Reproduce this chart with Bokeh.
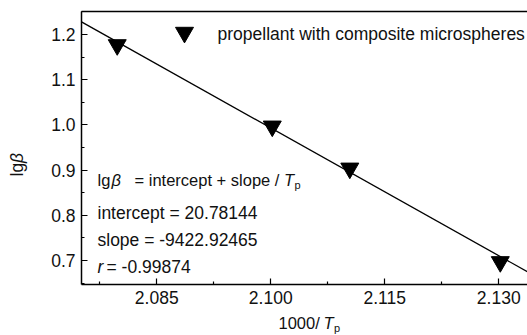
from bokeh.plotting import figure
from bokeh.models import Range1d, FixedTicker, LinearAxis, Label, NumeralTickFormatter
from bokeh.embed import file_html
from bokeh.resources import INLINE
import math

# ---- data ----
x_inv_tp = [2.0798, 2.1002, 2.1104, 2.1302]      # 1000/Tp
lg_beta = [1.177, 0.997, 0.904, 0.697]           # lg(beta)
fit_intercept = 20.78144
fit_slope = -9422.92465
fit_r = -0.99874
x_ticks = [2.085, 2.100, 2.115, 2.130]
y_ticks = [0.7, 0.8, 0.9, 1.0, 1.1, 1.2]
legend_label = "propellant with composite microspheres"

# ---- layout ----
W, H = 527, 335
BL, BT, BB = 81, 11, 284          # plot box left / top / bottom (pixels)
X0, X1 = 2.0751, 2.13378          # data at box left / page right
Y0, Y1 = 0.6469, 1.2509           # data at box bottom / top
DX = (X1 - X0) / (W - BL)
DY = (Y1 - Y0) / (BB - BT)
XS, XE = X0 - BL * DX, X1
YS, YE = Y0 - (H - BB) * DY, Y1 + BT * DY
FONT = "Liberation Sans"
FSPX = 17.5
FS = "%gpx" % FSPX
INK = "#111111"


def px_x(px):
    return XS + px * DX


def px_y(py):
    return YE - py * DY


p = figure(width=W, height=H, output_backend="svg", toolbar_location=None,
           x_range=Range1d(XS, XE), y_range=Range1d(YS, YE),
           min_border=0, min_border_left=0, min_border_right=0,
           min_border_top=0, min_border_bottom=0)
p.title.visible = False
p.grid.visible = False
p.outline_line_color = None
p.background_fill_color = "white"
p.border_fill_color = "white"

x_minor = [t - 0.0075 for t in x_ticks] + [x_ticks[-1] + 0.0075]
y_minor = [round(t - 0.05, 3) for t in y_ticks] + [1.25]
xa, ya = p.xaxis[0], p.yaxis[0]
xa.ticker = FixedTicker(ticks=x_ticks, minor_ticks=x_minor)
ya.ticker = FixedTicker(ticks=y_ticks, minor_ticks=y_minor)
xa.formatter = NumeralTickFormatter(format="0.000")
ya.formatter = NumeralTickFormatter(format="0.0")
xa.fixed_location = Y0
ya.fixed_location = X0
xa.bounds = (X0, X1)
ya.bounds = (Y0, Y1)

for ax in (xa, ya):
    ax.axis_line_width = 1.5
    ax.axis_line_color = "black"
    ax.major_tick_in = 6
    ax.major_tick_out = 0
    ax.minor_tick_in = 3
    ax.minor_tick_out = 0
    ax.major_tick_line_width = 1.2
    ax.minor_tick_line_width = 1.2
    ax.major_tick_line_color = "black"
    ax.minor_tick_line_color = "black"
    ax.major_label_text_font = FONT
    ax.major_label_text_font_size = FS
    ax.major_label_text_color = INK
    ax.major_label_standoff = 6

top = LinearAxis(ticker=FixedTicker(ticks=[]), major_label_text_font_size="0px",
                 axis_line_width=1.5, axis_line_color="black",
                 major_tick_in=0, major_tick_out=0, minor_tick_in=0, minor_tick_out=0,
                 major_label_standoff=0, fixed_location=Y1, bounds=(X0, X1))
p.add_layout(top, "above")

# fit line from the equation, across the plot box
xs_line = [X0, X1]
ys_line = [fit_intercept + fit_slope / 1000.0 * x for x in xs_line]
p.line(xs_line, ys_line, line_color="black", line_width=1.3)

# data points
p.scatter(x_inv_tp, lg_beta, marker="inverted_triangle", size=18,
          fill_color="black", line_color="black")

# legend symbol
p.scatter([px_x(184)], [px_y(32)], marker="inverted_triangle", size=18,
          fill_color="black", line_color="black")

MID = 0.3465   # em-box centre above the baseline (Liberation Sans)


def m(text, x, base, italic=False, size=FSPX, rotated=False):
    """Place text by its baseline position (pixels); drawn with middle anchor."""
    off = MID * size
    if rotated:
        lx, ly, ang = x - off, base, math.pi / 2
    else:
        lx, ly, ang = x, base - off, 0.0
    p.add_layout(Label(x=px_x(lx), y=px_y(ly), text=text, text_font=FONT,
                       text_font_style="italic" if italic else "normal",
                       text_font_size="%gpx" % size, text_color=INK,
                       text_baseline="middle", text_align="left", angle=ang))


m(legend_label, 217, 39.5)

# equation block
EQ = 16.5
m("lg", 97, 185, size=EQ)
m("\u03b2", 111, 185, italic=True, size=EQ)
m("= intercept + slope / ", 134, 185, size=EQ)
m("T", 283.5, 185, italic=True, size=EQ)
m("p", 294, 188, size=11)
m("intercept = %.5f" % fit_intercept, 97, 219)
m("slope = %.5f" % fit_slope, 97, 246)
m("r", 97, 273, italic=True)
m("= %.5f" % fit_r, 106, 273)

# axis titles
m("lg", 23, 176, rotated=True)
m("\u03b2", 23, 162.5, italic=True, rotated=True)
m("1000/", 278, 328, size=16.5)
m("T", 323, 328, italic=True, size=16.5)
m("p", 333.5, 331, size=11)

open("out.html", "w").write(file_html(p, INLINE))
